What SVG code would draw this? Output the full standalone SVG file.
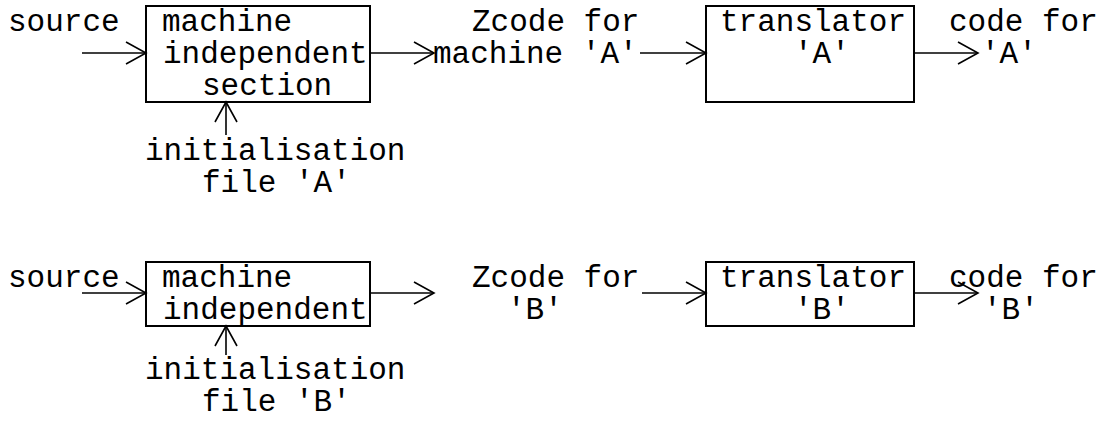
<svg xmlns="http://www.w3.org/2000/svg" width="1106" height="421" viewBox="0 0 1106 421">
<style>
text{font-family:"Liberation Mono","Courier New",monospace;font-size:31px;fill:#000}
.box{fill:#fff;stroke:#000;stroke-width:2}
.conn line{stroke:#000;stroke-width:1.6;fill:none}
</style>
<defs>
<marker id="arr" markerUnits="userSpaceOnUse" markerWidth="24" markerHeight="26" viewBox="-22 -13 24 26" refX="0" refY="0" orient="auto" overflow="visible">
<path d="M-20,-11 L0,0 L-20,11" fill="none" stroke="#000" stroke-width="1.6"/>
</marker>
</defs>
<rect width="1106" height="421" fill="#fff"/>
<g id="source-a"><text x="8" y="31">source</text></g>
<g id="mis-a"><rect class="box" x="146" y="6" width="224" height="96"/>
<text x="162" y="31">machine</text><text x="163" y="63">independent</text><text x="202" y="95">section</text></g>
<g id="init-a"><text x="145" y="160">initialisation</text><text x="202" y="192">file 'A'</text></g>
<g id="zcode-a"><text x="472" y="31">Zcode for</text><text x="433" y="63">machine 'A'</text></g>
<g id="trans-a"><rect class="box" x="706" y="6" width="208" height="96"/>
<text x="720" y="31">translator</text><text x="794" y="63">'A'</text></g>
<g id="code-a"><text x="949" y="31">code for</text><text x="981" y="63">'A'</text></g>

<g id="source-b"><text x="8" y="287">source</text></g>
<g id="mis-b"><rect class="box" x="146" y="262" width="224" height="64"/>
<text x="162" y="287">machine</text><text x="163" y="319">independent</text></g>
<g id="init-b"><text x="145" y="379">initialisation</text><text x="202" y="411">file 'B'</text></g>
<g id="zcode-b"><text x="472" y="287">Zcode for</text><text x="507" y="319">'B'</text></g>
<g id="trans-b"><rect class="box" x="706" y="262" width="208" height="64"/>
<text x="720" y="287">translator</text><text x="794" y="319">'B'</text></g>
<g id="code-b"><text x="949" y="287">code for</text><text x="983" y="319">'B'</text></g>

<g id="connectors" class="conn">
<line x1="82" y1="53" x2="146" y2="53" marker-end="url(#arr)"/>
<line x1="370" y1="53" x2="434" y2="53" marker-end="url(#arr)"/>
<line x1="640" y1="53" x2="706" y2="53" marker-end="url(#arr)"/>
<line x1="914" y1="53" x2="978" y2="53" marker-end="url(#arr)"/>
<line x1="226" y1="135" x2="226" y2="102" marker-end="url(#arr)"/>
<line x1="82" y1="293" x2="146" y2="293" marker-end="url(#arr)"/>
<line x1="370" y1="293" x2="434" y2="293" marker-end="url(#arr)"/>
<line x1="642" y1="293" x2="706" y2="293" marker-end="url(#arr)"/>
<line x1="914" y1="293" x2="978" y2="293" marker-end="url(#arr)"/>
<line x1="226" y1="355" x2="226" y2="326" marker-end="url(#arr)"/>
</g>
</svg>
